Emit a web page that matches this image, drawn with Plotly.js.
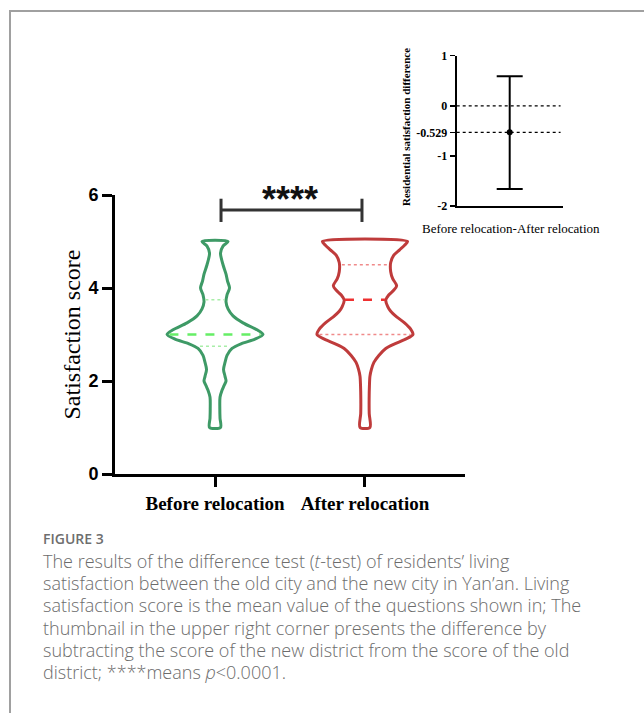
<!DOCTYPE html>
<html>
<head>
<meta charset="utf-8">
<script src="https://cdn.plot.ly/plotly-3.0.1.min.js"></script>
<style>
  html, body { margin: 0; padding: 0; background: #fff; }
  #wrap { position: relative; width: 644px; height: 713px; overflow: hidden; }
  #chart { position: absolute; left: 0; top: 0; width: 644px; height: 713px; }
  #frame { position: absolute; left: 9px; top: 10px; width: 700px; height: 800px;
           border-top: 2px solid #a0a0a0; border-left: 2px solid #a0a0a0; pointer-events: none; }
  #figlabel { position: absolute; left: 43px; top: 529px; font-family: "Open Sans", sans-serif;
              font-size: 14px; font-weight: 600; color: #6e6e6e; }
  #caption { position: absolute; left: 43px; top: 550px; font-family: "Open Sans", sans-serif;
             font-size: 18px; line-height: 22.2px; color: #6c6c6c; font-weight: 300; white-space: nowrap; }
</style>
</head>
<body>
<div id="wrap">
  <div id="chart"></div>
  <div id="frame"></div>
  <div id="figlabel">FIGURE 3</div>
  <div id="caption">The results of the difference test (<i>t</i>-test) of residents’ living<br>satisfaction between the old city and the new city in Yan’an. Living<br>satisfaction score is the mean value of the questions shown in; The<br>thumbnail in the upper right corner presents the difference by<br>subtracting the score of the new district from the score of the old<br>district; ****means <i>p</i>&lt;0.0001.</div>
</div>
<script>
// ---------------- DATA ----------------
const categories = ["Before relocation", "After relocation"];

// Kernel density profile (score level -> relative density)
const beforeScores  = [5.0, 4.9, 4.75, 4.5, 4.3, 4.15, 4.0, 3.85, 3.7, 3.55, 3.4, 3.25, 3.1, 3.0, 2.9, 2.8, 2.7, 2.55, 2.4, 2.25, 2.1, 2.0, 1.9, 1.8, 1.65, 1.4, 1.2, 1.0];
const beforeDensity = [13, 8, 5.5, 8, 11, 12.5, 14.5, 12, 11, 13, 18, 28, 42, 48, 40, 26, 17, 12, 10, 8.5, 10, 11, 9, 7, 5, 4.8, 5, 5.5];

const afterScores  = [5.0, 4.92, 4.82, 4.7, 4.55, 4.35, 4.2, 4.05, 3.95, 3.85, 3.74, 3.6, 3.5, 3.38, 3.25, 3.12, 3.0, 2.9, 2.8, 2.7, 2.55, 2.4, 2.25, 2.1, 1.9, 1.6, 1.3, 1.0];
const afterDensity = [43, 40, 35, 29, 26, 26, 28, 32, 29, 24, 21, 23, 26, 32, 40, 46, 48.5, 41, 30, 21, 14, 9, 6.5, 5, 4.5, 4.2, 4.3, 5];

const beforeQuartiles = [2.75, 3.0, 3.75];   // Q1, median, Q3
const afterQuartiles  = [3.0, 3.75, 4.5];

const sigLabel = "****";

// Inset: difference (Before - After)
const diffCategory = "Before relocation-After relocation";
const diffMean  = -0.529;
const diffUpper = 0.59;
const diffLower = -1.66;
const diffTicks = [1, 0, -0.529, -1, -2];
const diffTickText = ["1", "0", "-0.529", "-1", "-2"];

// ---------------- HELPERS ----------------
const MAXHALF = 0.32; // half-width of widest violin, in category units

function interp(scores, dens, s) {
  for (let i = 0; i < scores.length - 1; i++) {
    const a = scores[i], b = scores[i + 1];
    if ((s <= a && s >= b)) {
      const t = (a - s) / (a - b);
      return dens[i] + t * (dens[i + 1] - dens[i]);
    }
  }
  return dens[dens.length - 1];
}

function violinTrace(center, scores, dens, color) {
  const m = Math.max(...dens);
  const xs = [], ys = [];
  for (let i = 0; i < scores.length; i++) { xs.push(center + dens[i] / m * MAXHALF); ys.push(scores[i]); }
  for (let i = scores.length - 1; i >= 0; i--) { xs.push(center - dens[i] / m * MAXHALF); ys.push(scores[i]); }
  xs.push(xs[0]); ys.push(ys[0]);
  return { x: xs, y: ys, type: 'scatter', mode: 'lines', xaxis: 'x', yaxis: 'y',
           line: { color: color, width: 3, shape: 'spline', smoothing: 0.8 }, hoverinfo: 'skip' };
}

function qLine(center, scores, dens, s, color, dash, width, frac) {
  const m = Math.max(...dens);
  const w = interp(scores, dens, s) / m * MAXHALF * frac;
  return { x: [center - w, center + w], y: [s, s], type: 'scatter', mode: 'lines', xaxis: 'x', yaxis: 'y',
           line: { color: color, width: width, dash: dash }, hoverinfo: 'skip' };
}

const GREEN = '#3e9a66', RED = '#bf3b3b';

const traces = [
  violinTrace(0, beforeScores, beforeDensity, GREEN),
  violinTrace(1, afterScores, afterDensity, RED),
  qLine(0, beforeScores, beforeDensity, beforeQuartiles[0], '#a8eea8', 'dot', 1.5, 0.7),
  qLine(0, beforeScores, beforeDensity, beforeQuartiles[1], '#66ee66', 'dash', 2.5, 0.95),
  qLine(0, beforeScores, beforeDensity, beforeQuartiles[2], '#a8eea8', 'dot', 1.5, 0.85),
  qLine(1, afterScores, afterDensity, afterQuartiles[0], '#f08a8a', 'dot', 1.5, 0.95),
  qLine(1, afterScores, afterDensity, afterQuartiles[1], '#ee3030', 'dash', 2.5, 0.95),
  qLine(1, afterScores, afterDensity, afterQuartiles[2], '#f08a8a', 'dot', 1.5, 0.9),
  { x: [0], y: [diffMean], type: 'scatter', mode: 'markers', xaxis: 'x2', yaxis: 'y2',
    marker: { color: '#000', size: 6 },
    error_y: { type: 'data', symmetric: false, array: [diffUpper - diffMean], arrayminus: [diffMean - diffLower],
               color: '#000', thickness: 2, width: 13 }, hoverinfo: 'skip' }
];

const W = 644, H = 713;
const px = v => v / W, py = v => 1 - v / H;

const layout = {
  width: W, height: H, margin: { l: 0, r: 0, t: 0, b: 0 },
  paper_bgcolor: '#fff', plot_bgcolor: 'rgba(0,0,0,0)', showlegend: false,
  xaxis: {
    domain: [px(115), px(465)], range: [-0.667, 1.667], anchor: 'y',
    tickvals: [0, 1], ticktext: categories, ticks: 'outside', ticklen: 10, tickwidth: 3, tickcolor: '#000',
    showline: true, linewidth: 3, linecolor: '#000', showgrid: false, zeroline: false,
    tickfont: { family: 'Liberation Serif, Times New Roman, serif', size: 19, weight: 'bold', color: '#000' }
  },
  yaxis: {
    domain: [py(474), py(195)], range: [0, 6], anchor: 'x',
    tickvals: [0, 2, 4, 6], ticks: 'outside', ticklen: 10, tickwidth: 3, tickcolor: '#000',
    showline: true, linewidth: 3, linecolor: '#000', showgrid: false, zeroline: false,
    tickfont: { family: 'Liberation Sans, Arial, sans-serif', size: 18, weight: 'bold', color: '#000' }
  },
  xaxis2: {
    domain: [px(456.7), px(562.7)], range: [-1, 1], anchor: 'y2',
    showticklabels: false, ticks: '', showline: true, linewidth: 2, linecolor: '#000',
    showgrid: false, zeroline: false
  },
  yaxis2: {
    domain: [py(206), py(55.7)], range: [-2, 1], anchor: 'x2',
    tickvals: diffTicks, ticktext: diffTickText, ticks: 'outside', ticklen: 5, tickwidth: 1.5, tickcolor: '#000',
    showline: true, linewidth: 2, linecolor: '#000', showgrid: false, zeroline: false,
    tickfont: { family: 'Liberation Serif, Times New Roman, serif', size: 12, weight: 'bold', color: '#000' }
  },
  shapes: [
    { type: 'line', xref: 'x', yref: 'y', x0: 0.04, x1: 0.98, y0: 5.68, y1: 5.68, line: { color: '#333', width: 3 } },
    { type: 'line', xref: 'x', yref: 'y', x0: 0.04, x1: 0.04, y0: 5.42, y1: 5.92, line: { color: '#333', width: 3 } },
    { type: 'line', xref: 'x', yref: 'y', x0: 0.98, x1: 0.98, y0: 5.42, y1: 5.92, line: { color: '#333', width: 3 } },
    { type: 'line', xref: 'x2 domain', yref: 'y2', x0: 0, x1: 0.98, y0: 0, y1: 0, line: { color: '#000', width: 1.2, dash: 'dot' } },
    { type: 'line', xref: 'x2 domain', yref: 'y2', x0: 0, x1: 0.98, y0: diffMean, y1: diffMean, line: { color: '#000', width: 1.2, dash: 'dot' } }
  ],
  annotations: [
    { text: 'Satisfaction score', xref: 'paper', yref: 'paper', x: px(71), y: py(334.5), textangle: -90,
      showarrow: false, xanchor: 'center', yanchor: 'middle',
      font: { family: 'Liberation Serif, Times New Roman, serif', size: 24, color: '#000' } },
    { text: sigLabel, xref: 'x', yref: 'y', x: 0.5, y: 5.9, showarrow: false, xanchor: 'center', yanchor: 'middle',
      font: { family: 'Liberation Sans, Arial, sans-serif', size: 36, weight: 'bold', color: '#111' } },
    { text: 'Residential satisfaction difference', xref: 'paper', yref: 'paper', x: px(406), y: py(127), textangle: -90,
      showarrow: false, xanchor: 'center', yanchor: 'middle',
      font: { family: 'Liberation Serif, Times New Roman, serif', size: 11, weight: 'bold', color: '#000' } },
    { text: diffCategory, xref: 'paper', yref: 'paper', x: px(510.7), y: py(228), showarrow: false,
      xanchor: 'center', yanchor: 'middle',
      font: { family: 'Liberation Serif, Times New Roman, serif', size: 13, color: '#000' } }
  ]
};

Plotly.newPlot('chart', traces, layout, { staticPlot: true, displayModeBar: false });
</script>
</body>
</html>
